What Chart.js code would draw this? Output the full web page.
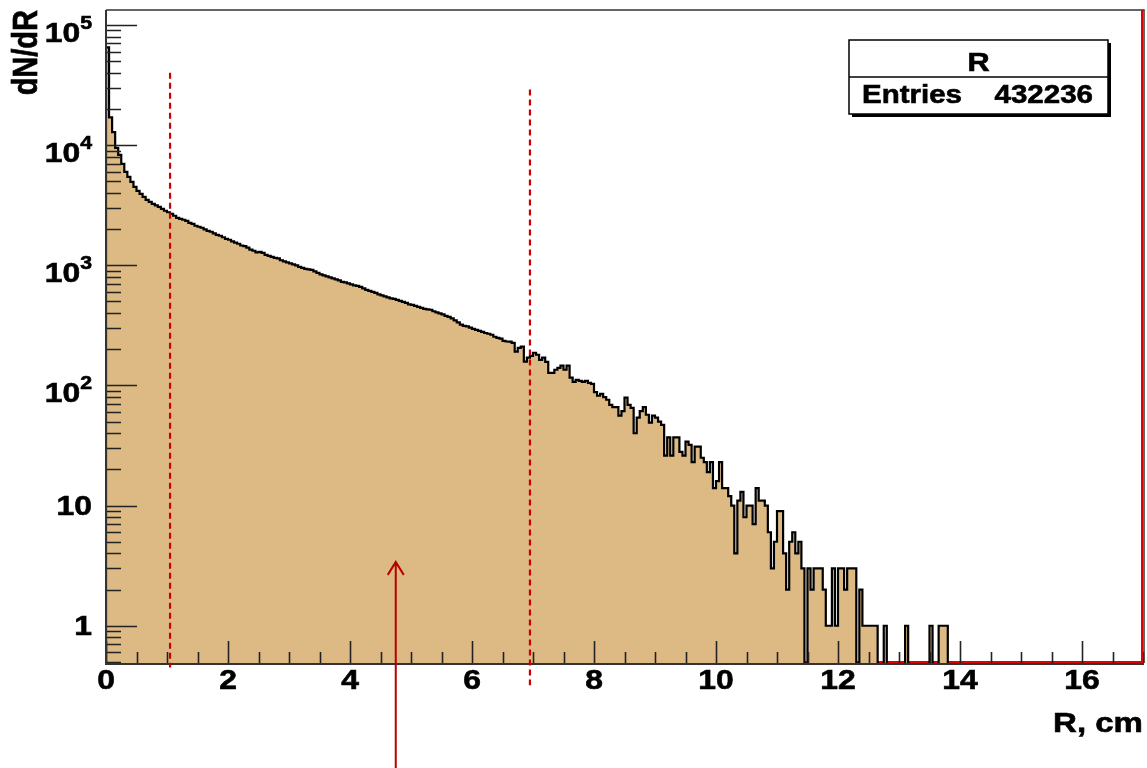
<!DOCTYPE html>
<html>
<head>
<meta charset="utf-8">
<script src="https://cdn.jsdelivr.net/npm/chart.js@4.4.0/dist/chart.umd.min.js"></script>
<style>
  html, body { margin: 0; padding: 0; background: #fff; }
  #wrap { width: 1147px; height: 768px; position: relative; }
</style>
</head>
<body>
<div id="wrap"><canvas id="hist"></canvas></div>
<script>
// R distribution, 0.05 cm bins from 0 to 17 cm (one row = 1 cm)
const binWidth = 0.05;
const rMin = 0, rMax = 17;
const counts = [
  65000, 17000, 12800, 9480, 8280, 6980, 5980, 5430, 4940, 4490, 4160, 3930, 3710, 3500, 3370, 3240, 3150, 3060, 2950, 2840,
  2760, 2680, 2580, 2480, 2430, 2390, 2340, 2250, 2210, 2130, 2090, 2050, 1990, 1930, 1900, 1840, 1790, 1760, 1710, 1660,
  1630, 1580, 1540, 1510, 1460, 1440, 1400, 1350, 1320, 1280, 1290, 1265, 1220, 1197, 1175, 1153, 1140, 1100, 1078, 1057,
  1037, 1017, 998, 970, 951, 933, 925, 916, 890, 864, 840, 824, 808, 793, 778, 763, 749, 727, 720, 706,
  693, 680, 674, 661, 642, 624, 612, 601, 589, 572, 561, 550, 540, 530, 525, 515, 505, 496, 487, 472,
  468, 459, 450, 442, 434, 430, 426, 414, 406, 398, 390, 379, 372, 361, 348, 335, 321, 313, 310, 303,
  296, 290, 284, 279, 273, 269, 264, 254, 249, 245, 235, 232, 231, 226, 191, 205, 210, 158, 170, 176,
  187, 180, 163, 170, 157, 127, 127, 135, 140, 146, 135, 146, 116, 107, 111, 109, 107, 109, 105, 103,
  88, 82, 85, 80, 76, 69, 66, 66, 56, 61, 79, 69, 65, 40, 54, 61, 66, 57, 49, 56,
  54, 50, 47, 26, 37, 26, 37, 37, 28, 26, 34, 32, 23, 31, 31, 25, 23, 19, 23, 14,
  16, 23, 14, 14, 12, 10, 4, 11, 13, 8, 10, 10, 7, 14, 11, 11, 10, 6, 3, 5,
  9, 9, 4, 2, 5, 6, 4, 5, 3, 0, 3, 2, 3, 3, 3, 2, 1, 1, 3, 1,
  3, 3, 2, 3, 3, 3, 0, 2, 1, 1, 1, 1, 1, 0, 0, 1, 0, 0, 0, 0,
  0, 0, 1, 0, 0, 0, 0, 0, 0, 0, 1, 0, 0, 1, 1, 1, 0, 0, 0, 0,
  0, 0, 0, 0, 0, 0, 0, 0, 0, 0, 0, 0, 0, 0, 0, 0, 0, 0, 0, 0,
  0, 0, 0, 0, 0, 0, 0, 0, 0, 0, 0, 0, 0, 0, 0, 0, 0, 0, 0, 0,
  0, 0, 0, 0, 0, 0, 0, 0, 0, 0, 0, 0, 0, 0, 0, 0, 0, 0, 0, 0
];

const histName = 'R';
const entries = 432236;
const xTitle = 'R, cm';
const yTitle = 'dN/dR';
const xTickValues = [0, 2, 4, 6, 8, 10, 12, 14, 16];
const yDecades = [0, 1, 2, 3, 4, 5];
const yMin = 0.49, yMax = 1.33e5;

// selection cuts (cm) with the dN/dR where each dashed line starts
const cutR = [1.05, 6.95];
const cutTop = [4.0e4, 2.9e4];
const cutBottom = [0.45, 0.32];
const arrowR = 4.75;
const arrowTip = 3.4;

// empty bins are parked under the axis floor so the outline drops out of view
const EMPTY = 0.1;
const points = [{ x: rMin, y: EMPTY }];
counts.forEach((c, i) => points.push({ x: i * binWidth, y: c > 0 ? c : EMPTY }));
points.push({ x: rMax, y: EMPTY });

const FONT = '"Liberation Sans", Arial, Helvetica, sans-serif';
const XSTRETCH = 1.18;

function label(ctx, str, x, y, size, align) {
  ctx.save();
  ctx.font = 'bold ' + size + 'px ' + FONT;
  ctx.fillStyle = '#000';
  ctx.strokeStyle = '#000';
  ctx.lineWidth = 0.6;
  ctx.textBaseline = 'alphabetic';
  ctx.textAlign = align;
  ctx.translate(x, y);
  ctx.scale(XSTRETCH, 1);
  ctx.fillText(str, 0, 0);
  ctx.strokeText(str, 0, 0);
  ctx.restore();
}

function textWidth(ctx, str, size) {
  ctx.save();
  ctx.font = 'bold ' + size + 'px ' + FONT;
  const w = ctx.measureText(str).width * XSTRETCH;
  ctx.restore();
  return w;
}

const rootFrame = {
  id: 'rootFrame',
  beforeDatasetsDraw(chart) {
    const { ctx, chartArea: a } = chart;
    ctx.save();
    ctx.strokeStyle = '#e00000';
    ctx.lineWidth = 2;
    ctx.beginPath();
    ctx.moveTo(a.left, a.bottom - 1);
    ctx.lineTo(a.right, a.bottom - 1);
    ctx.stroke();
    ctx.restore();
  },
  afterDatasetsDraw(chart) {
    const { ctx, chartArea: a } = chart;
    const xs = chart.scales.x, ys = chart.scales.y;
    ctx.save();
    ctx.strokeStyle = '#222';
    ctx.lineWidth = 1.6;
    ctx.beginPath();
    // y ticks, inside the frame
    for (let d = -1; d <= 5; d++) {
      for (let k = 1; k <= 9; k++) {
        const v = k * Math.pow(10, d);
        if (v < yMin || v > yMax) continue;
        const py = Math.round(ys.getPixelForValue(v)) + 0.5;
        const len = k === 1 ? 31 : 15;
        ctx.moveTo(a.left, py);
        ctx.lineTo(a.left + len, py);
      }
    }
    // x ticks every 0.5 cm
    for (let t = rMin; t <= rMax; t += 0.5) {
      const px = Math.round(xs.getPixelForValue(t)) + 0.5;
      const len = xTickValues.includes(t) ? 22 : 11;
      ctx.moveTo(px, a.bottom);
      ctx.lineTo(px, a.bottom - len);
    }
    ctx.stroke();

    // frame
    ctx.strokeStyle = '#333';
    ctx.lineWidth = 2;
    ctx.beginPath();
    ctx.moveTo(a.left, a.top);
    ctx.lineTo(a.left, a.bottom + 1);
    ctx.lineTo(a.right + 1, a.bottom + 1);
    ctx.stroke();
    ctx.lineWidth = 1.5;
    ctx.beginPath();
    ctx.moveTo(a.left, a.top);
    ctx.lineTo(a.right + 1, a.top);
    ctx.lineTo(a.right + 1, a.bottom);
    ctx.stroke();
    ctx.strokeStyle = '#e00000';
    ctx.lineWidth = 2;
    ctx.beginPath();
    ctx.moveTo(a.right - 1, a.top);
    ctx.lineTo(a.right - 1, a.bottom);
    ctx.stroke();
    ctx.restore();
  },
  afterDraw(chart) {
    const { ctx, chartArea: a } = chart;
    const xs = chart.scales.x, ys = chart.scales.y;

    // x labels
    xTickValues.forEach(t => label(ctx, String(t), xs.getPixelForValue(t), 689, 27, 'center'));

    // y labels: 1, 10, then 10^n
    const right = 92;
    yDecades.forEach(d => {
      const py = ys.getPixelForValue(Math.pow(10, d));
      if (d < 2) {
        label(ctx, d === 0 ? '1' : '10', right, py + 9.5, 27, 'right');
      } else {
        const sup = String(d);
        const sw = textWidth(ctx, sup, 18);
        label(ctx, sup, right, py + 4, 18, 'right');
        label(ctx, '10', right - sw, py + 17, 27, 'right');
      }
    });

    // axis titles
    label(ctx, xTitle, a.right, 732, 28, 'right');
    ctx.save();
    ctx.translate(37, 10);
    ctx.rotate(-Math.PI / 2);
    ctx.font = 'bold 29px ' + FONT;
    ctx.textAlign = 'right';
    ctx.fillStyle = '#000';
    ctx.strokeStyle = '#000';
    ctx.lineWidth = 0.6;
    ctx.scale(1, XSTRETCH);
    ctx.fillText(yTitle, 0, 0);
    ctx.strokeText(yTitle, 0, 0);
    ctx.restore();

    // dashed cut lines
    ctx.save();
    ctx.strokeStyle = '#cc0000';
    ctx.lineWidth = 2.2;
    ctx.setLineDash([6, 4]);
    cutR.forEach((r, i) => {
      const px = xs.getPixelForValue(r);
      ctx.beginPath();
      ctx.moveTo(px, ys.getPixelForValue(cutTop[i]));
      ctx.lineTo(px, ys.getPixelForValue(cutBottom[i]));
      ctx.stroke();
    });
    ctx.setLineDash([]);

    // arrow from the bottom edge up into the histogram
    const ax = xs.getPixelForValue(arrowR);
    const ay = ys.getPixelForValue(arrowTip);
    ctx.strokeStyle = '#b80000';
    ctx.lineWidth = 2;
    ctx.beginPath();
    ctx.moveTo(ax, chart.height);
    ctx.lineTo(ax, ay);
    ctx.moveTo(ax - 8, ay + 13);
    ctx.lineTo(ax, ay);
    ctx.lineTo(ax + 8, ay + 13);
    ctx.stroke();
    ctx.restore();

    // stats box
    const bx = 849, by = 40, bw = 259, bh = 74, mid = 77;
    ctx.save();
    ctx.fillStyle = '#000';
    ctx.fillRect(bx + 3, by + 3, bw, bh);
    ctx.fillStyle = '#fff';
    ctx.fillRect(bx, by, bw, bh);
    ctx.strokeStyle = '#000';
    ctx.lineWidth = 1.5;
    ctx.strokeRect(bx, by, bw, bh);
    ctx.beginPath();
    ctx.moveTo(bx, mid);
    ctx.lineTo(bx + bw, mid);
    ctx.stroke();
    ctx.restore();
    label(ctx, histName, bx + bw / 2, 71, 26, 'center');
    label(ctx, 'Entries', 862, 103, 25, 'left');
    label(ctx, String(entries), 1093, 103, 25, 'right');
  }
};

new Chart(document.getElementById('hist'), {
  type: 'line',
  data: {
    datasets: [{
      label: histName,
      data: points,
      stepped: true,
      fill: 'start',
      backgroundColor: '#ddba83',
      borderColor: '#000',
      borderWidth: 2.2,
      pointRadius: 0,
      tension: 0
    }]
  },
  options: {
    responsive: true,
    maintainAspectRatio: false,
    animation: false,
    events: [],
    layout: { padding: { top: 10, right: 4, left: 0, bottom: 0 } },
    scales: {
      x: {
        type: 'linear', min: rMin, max: rMax,
        ticks: { display: false }, grid: { display: false }, border: { display: false },
        afterFit(s) { s.height = 105; }
      },
      y: {
        type: 'logarithmic', min: yMin, max: yMax,
        ticks: { display: false }, grid: { display: false }, border: { display: false },
        afterFit(s) { s.width = 106; }
      }
    },
    plugins: { legend: { display: false }, tooltip: { enabled: false } }
  },
  plugins: [rootFrame]
});
</script>
</body>
</html>
